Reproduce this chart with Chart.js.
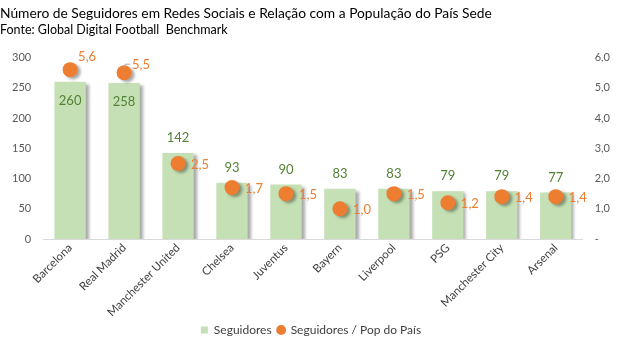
<!DOCTYPE html>
<html>
<head>
<meta charset="utf-8">
<script src="https://cdn.jsdelivr.net/npm/chart.js@4.4.1/dist/chart.umd.min.js"></script>
<style>
  html, body { margin: 0; padding: 0; background: #fff; }
  #wrap { position: relative; width: 628px; height: 351px; }
</style>
</head>
<body>
<div id="wrap"><canvas id="chart" width="628" height="351"></canvas></div>
<script>
// chart data
var clubs = ["Barcelona", "Real Madrid", "Manchester United", "Chelsea", "Juventus",
             "Bayern", "Liverpool", "PSG", "Manchester City", "Arsenal"];
var seguidores = [260, 258, 142, 93, 90, 83, 83, 79, 79, 77];
var seguidoresPop = [5.6, 5.5, 2.5, 1.7, 1.5, 1.0, 1.5, 1.2, 1.4, 1.4];
var leftTicks = [0, 50, 100, 150, 200, 250, 300];
var rightTicks = [0, 1, 2, 3, 4, 5, 6];

var fontFamily = "Lato, 'Open Sans', sans-serif";
var greenBar = "#C5E0B4",
    greenText = "#548235",
    orange = "#ED7D31",
    axisText = "#595959";

function fmt1(v) {
  return v.toFixed(1).replace(".", ",");
}

// soft shadow under bars and dots, like the spreadsheet style
var shadowPlugin = {
  id: "shadows",
  beforeDatasetDraw: function(chart) {
    var ctx = chart.ctx;
    ctx.save();
    ctx.shadowColor = "rgba(0,0,0,0.35)";
    ctx.shadowBlur = 3;
    ctx.shadowOffsetX = 3;
    ctx.shadowOffsetY = 2;
  },
  afterDatasetDraw: function(chart) {
    chart.ctx.restore();
  }
};

// value labels on bars and dots
var labelPlugin = {
  id: "valueLabels",
  afterDatasetsDraw: function(chart) {
    var ctx = chart.ctx;
    ctx.save();
    ctx.font = "13px " + fontFamily;
    ctx.textBaseline = "middle";

    var barMeta = chart.getDatasetMeta(0);
    ctx.fillStyle = greenText;
    ctx.textAlign = "center";
    barMeta.data.forEach(function(bar, i) {
      var y = seguidores[i] > 200 ? bar.y + 19 : bar.y - 15;
      ctx.fillText(String(seguidores[i]), bar.x, y);
    });

    var dotMeta = chart.getDatasetMeta(1);
    ctx.fillStyle = orange;
    ctx.textAlign = "left";
    dotMeta.data.forEach(function(pt, i) {
      if (seguidores[i] > 200) {
        // these two sit above the bars, label goes up and right
        ctx.fillText(fmt1(seguidoresPop[i]), pt.x + 8, pt.y - 13 + i * 5);
        if (i == 1) {
          ctx.strokeStyle = "#A6A6A6";
          ctx.lineWidth = 1;
          ctx.beginPath();
          ctx.moveTo(pt.x + 1, pt.y - 5);
          ctx.lineTo(pt.x + 1, pt.y - 8.5);
          ctx.lineTo(pt.x + 6, pt.y - 8.5);
          ctx.stroke();
        }
      } else {
        ctx.fillText(fmt1(seguidoresPop[i]), pt.x + 13, pt.y + 1);
      }
    });
    ctx.restore();
  }
};

var chart = new Chart(document.getElementById("chart"), {
  type: "bar",
  data: {
    labels: clubs,
    datasets: [
      {
        label: "Seguidores",
        data: seguidores,
        backgroundColor: greenBar,
        borderWidth: 0,
        categoryPercentage: 1,
        barPercentage: 0.58,
        yAxisID: "y",
        pointStyle: "rect",
        order: 2
      },
      {
        type: "line",
        label: "Seguidores / Pop do País",
        data: seguidoresPop,
        showLine: false,
        pointStyle: "circle",
        pointRadius: 7.5,
        pointHoverRadius: 7.5,
        pointBackgroundColor: orange,
        pointBorderWidth: 0,
        backgroundColor: orange,
        borderColor: orange,
        yAxisID: "y1",
        order: 1
      }
    ]
  },
  options: {
    responsive: false,
    animation: false,
    devicePixelRatio: 1,
    layout: { padding: { left: 0, right: 6, top: 5, bottom: 5 } },
    plugins: {
      title: {
        display: true,
        align: "start",
        text: "Número de Seguidores em Redes Sociais e Relação com a População do País Sede",
        color: "#000",
        font: { family: fontFamily, size: 13.8, weight: "normal", lineHeight: 1.2 },
        padding: { top: 0, bottom: 0 }
      },
      subtitle: {
        display: true,
        align: "start",
        text: "Fonte: Global Digital Football  Benchmark",
        color: "#000",
        font: { family: fontFamily, size: 12.5, weight: "normal", lineHeight: 1.2 },
        padding: { top: 1, bottom: 20 }
      },
      legend: {
        position: "bottom",
        labels: {
          usePointStyle: true,
          boxWidth: 7,
          boxHeight: 7,
          padding: 6,
          color: "#404040",
          font: { family: fontFamily, size: 12 },
          sort: function(a, b) { return a.datasetIndex - b.datasetIndex; }
        }
      },
      tooltip: { enabled: false }
    },
    scales: {
      x: {
        grid: { display: false, drawTicks: false },
        border: { color: "#D9D9D9", width: 1 },
        ticks: {
          color: "#404040",
          font: { family: fontFamily, size: 11.5 },
          maxRotation: 45,
          minRotation: 45,
          padding: 2
        },
        // rotated names run close to the legend, like in the source
        afterFit: function(axis) {
          axis.height = 79;
          axis.paddingLeft = 0;
          axis.paddingRight = 0;
        }
      },
      y: {
        position: "left",
        min: 0,
        max: 300,
        afterBuildTicks: function(axis) {
          axis.ticks = leftTicks.map(function(v) { return { value: v }; });
        },
        grid: { display: false, drawTicks: false },
        border: { display: false },
        ticks: {
          color: axisText,
          font: { family: fontFamily, size: 11 },
          padding: 12
        }
      },
      y1: {
        position: "right",
        min: 0,
        max: 6,
        afterBuildTicks: function(axis) {
          axis.ticks = rightTicks.map(function(v) { return { value: v }; });
        },
        grid: { display: false, drawTicks: false },
        border: { display: false },
        ticks: {
          color: axisText,
          font: { family: fontFamily, size: 11 },
          padding: 12,
          callback: function(v) { return v === 0 ? "-" : fmt1(v); }
        }
      }
    }
  },
  plugins: [shadowPlugin, labelPlugin]
});
</script>
</body>
</html>
